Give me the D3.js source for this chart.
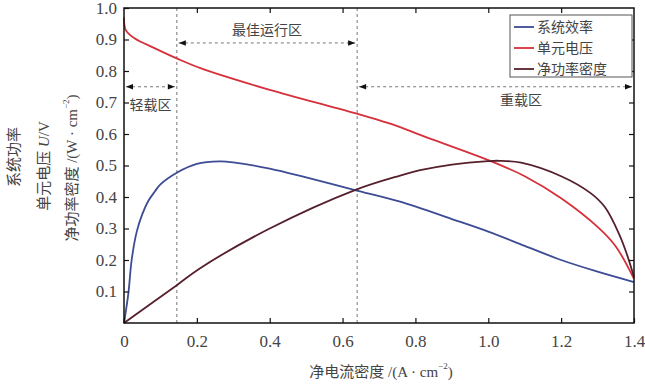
<!DOCTYPE html>
<html>
<head>
<meta charset="utf-8">
<script src="https://cdn.jsdelivr.net/npm/d3@7"></script>
<style>
  body { margin: 0; background: #fff; }
  svg text { font-family: "Liberation Serif", "Noto Sans CJK SC", serif; fill: #444; }
  .cjk { font-family: "Liberation Serif", "Noto Sans CJK SC", sans-serif; }
</style>
</head>
<body>
<svg id="chart" width="645" height="386"></svg>
<script>
// 系统效率
const effX = [0, 0.012, 0.021, 0.035, 0.05, 0.067, 0.085, 0.1, 0.145, 0.2, 0.263, 0.3, 0.4, 0.5, 0.634, 0.758, 0.9, 1.0, 1.1, 1.2, 1.3, 1.4];
const effY = [0, 0.094, 0.2, 0.29, 0.345, 0.388, 0.418, 0.44, 0.477, 0.505, 0.513, 0.51, 0.49, 0.462, 0.422, 0.385, 0.33, 0.29, 0.245, 0.2, 0.163, 0.13];
// 单元电压
const voltX = [0, 0.005, 0.03, 0.085, 0.145, 0.21, 0.4, 0.634, 0.758, 0.813, 1.0, 1.1, 1.2, 1.3, 1.35, 1.4];
const voltY = [0.97, 0.93, 0.903, 0.872, 0.84, 0.809, 0.74, 0.666, 0.622, 0.597, 0.517, 0.466, 0.396, 0.305, 0.243, 0.14];
// 净功率密度
const powX = [0, 0.145, 0.209, 0.4, 0.634, 0.758, 0.813, 0.9, 1.0, 1.03, 1.09, 1.2, 1.28, 1.32, 1.36, 1.38, 1.4];
const powY = [0, 0.12, 0.174, 0.30, 0.422, 0.468, 0.485, 0.503, 0.514, 0.515, 0.509, 0.466, 0.413, 0.368, 0.28, 0.22, 0.146];

const seriesNames = ["系统效率", "单元电压", "净功率密度"];
const xTicks = [0, 0.2, 0.4, 0.6, 0.8, 1.0, 1.2, 1.4];
const xTickLabels = ["0", "0.2", "0.4", "0.6", "0.8", "1.0", "1.2", "1.4"];
const yTicks = [0.1, 0.2, 0.3, 0.4, 0.5, 0.6, 0.7, 0.8, 0.9, 1.0];
const yTickLabels = ["0.1", "0.2", "0.3", "0.4", "0.5", "0.6", "0.7", "0.8", "0.9", "1.0"];
const regionBounds = [0, 0.145, 0.64, 1.4];
const regionNames = ["轻载区", "最佳运行区", "重载区"];

const colors = ["#3c4b94", "#d6303a", "#55202c"];
const margin = { top: 8, right: 11, bottom: 63, left: 124 };
const width = 645, height = 386;
const svg = d3.select('#chart');

let x = d3.scaleLinear().domain([0, 1.4]).range([margin.left, width - margin.right]);
let y = d3.scaleLinear().domain([0, 1]).range([height - margin.bottom, margin.top]);

let defs = svg.append('defs');
['start', 'end'].forEach(k => {
    defs.append('marker')
        .attr('id', `arrow-${k}`)
        .attr('viewBox', '0 0 10 10')
        .attr('refX', 10).attr('refY', 5)
        .attr('markerWidth', 9).attr('markerHeight', 7)
        .attr('markerUnits', 'userSpaceOnUse')
        .attr('orient', k === 'end' ? 'auto' : 'auto-start-reverse')
        .append('path')
        .attr('d', 'M0,1 L10,5 L0,9 Z')
        .attr('fill', '#111');
});

// region dividers
svg.selectAll('.divider')
    .data(regionBounds.slice(1, 3))
    .enter().append('line')
    .attr('x1', d => x(d)).attr('x2', d => x(d))
    .attr('y1', y(1)).attr('y2', y(0))
    .attr('stroke', '#777').attr('stroke-width', 1)
    .attr('stroke-dasharray', '3,3');

// region arrows and labels
let arrowY = [0.75, 0.889, 0.75];
let labelY = [0.69, 0.927, 0.705];
let labelX = [(0 + 0.145) / 2, (0.145 + 0.64) / 2, 1.09];
regionNames.forEach((name, i) => {
    svg.append('line')
        .attr('x1', x(regionBounds[i]) + 2).attr('x2', x(regionBounds[i + 1]) - 2)
        .attr('y1', y(arrowY[i])).attr('y2', y(arrowY[i]))
        .attr('stroke', '#777').attr('stroke-width', 1)
        .attr('stroke-dasharray', '3,3')
        .attr('marker-start', 'url(#arrow-start)')
        .attr('marker-end', 'url(#arrow-end)');
    svg.append('text')
        .attr('class', 'cjk')
        .attr('x', x(labelX[i])).attr('y', y(labelY[i]))
        .attr('text-anchor', 'middle').attr('dominant-baseline', 'central')
        .style('font-size', '14px')
        .text(name);
});

// curves
let line = d3.line()
    .x(d => x(d[0])).y(d => y(d[1]))
    .curve(d3.curveCatmullRom.alpha(0.5));
let series = [d3.zip(effX, effY), d3.zip(voltX, voltY), d3.zip(powX, powY)];
svg.selectAll('.curve')
    .data(series)
    .enter().append('path')
    .attr('d', line)
    .attr('fill', 'none')
    .attr('stroke', (d, i) => colors[i])
    .attr('stroke-width', 1.8);

// frame
svg.append('rect')
    .attr('x', x(0)).attr('y', y(1))
    .attr('width', x(1.4) - x(0)).attr('height', y(0) - y(1))
    .attr('fill', 'none').attr('stroke', '#111').attr('stroke-width', 1.5);

// axes with inward ticks
let xAxis = svg.append('g')
    .attr('transform', `translate(0,${y(0)})`)
    .call(d3.axisBottom(x).tickValues(xTicks).tickSizeInner(-5).tickSizeOuter(0)
        .tickPadding(12).tickFormat((d, i) => xTickLabels[i]));
let xTop = svg.append('g')
    .attr('transform', `translate(0,${y(1)})`)
    .call(d3.axisTop(x).tickValues(xTicks.slice(1, -1)).tickSizeInner(-5).tickSizeOuter(0).tickFormat(''));
let yAxis = svg.append('g')
    .attr('transform', `translate(${x(0)},0)`)
    .call(d3.axisLeft(y).tickValues(yTicks).tickSizeInner(-5).tickSizeOuter(0)
        .tickPadding(7).tickFormat((d, i) => yTickLabels[i]));
let yRight = svg.append('g')
    .attr('transform', `translate(${x(1.4)},0)`)
    .call(d3.axisRight(y).tickValues(yTicks.slice(0, -1)).tickSizeInner(-5).tickSizeOuter(0).tickFormat(''));

[xAxis, xTop, yAxis, yRight].forEach(g => {
    g.select('.domain').remove();
    g.selectAll('line').attr('stroke', '#111').attr('stroke-width', 1.2);
    g.selectAll('text').style('font-size', '17px').attr('fill', '#444')
        .style('font-family', '"Liberation Serif", serif');
});

// axis titles
let xTitle = svg.append('text')
    .attr('x', 381).attr('y', 372)
    .attr('text-anchor', 'middle').attr('dominant-baseline', 'central')
    .style('font-size', '15px');
xTitle.append('tspan').text('净电流密度 /(A · cm');
xTitle.append('tspan').attr('dy', -6).style('font-size', '9px').text('−2');
xTitle.append('tspan').attr('dy', 6).text(')');

let yTitles = svg.append('g');
yTitles.append('text')
    .attr('transform', 'translate(14,157) rotate(-90)')
    .attr('text-anchor', 'middle').attr('dominant-baseline', 'central')
    .style('font-size', '15px').text('系统功率');
let t2 = yTitles.append('text')
    .attr('transform', 'translate(44,166) rotate(-90)')
    .attr('text-anchor', 'middle').attr('dominant-baseline', 'central')
    .style('font-size', '15px');
t2.append('tspan').text('单元电压 ');
t2.append('tspan').style('font-style', 'italic').text('U');
t2.append('tspan').text('/V');
let t3 = yTitles.append('text')
    .attr('transform', 'translate(72,168) rotate(-90)')
    .attr('text-anchor', 'middle').attr('dominant-baseline', 'central')
    .style('font-size', '15px');
t3.append('tspan').text('净功率密度 /(W · cm');
t3.append('tspan').attr('dy', -6).style('font-size', '9px').text('−2');
t3.append('tspan').attr('dy', 6).text(')');

// legend
let legend = svg.append('g').attr('transform', 'translate(510,15)');
legend.append('rect')
    .attr('width', 122).attr('height', 62)
    .attr('fill', '#fff').attr('stroke', '#555').attr('stroke-width', 1);
seriesNames.forEach((name, i) => {
    let ly = 12 + i * 21;
    legend.append('line')
        .attr('x1', 4).attr('x2', 24).attr('y1', ly).attr('y2', ly)
        .attr('stroke', colors[i]).attr('stroke-width', 1.8);
    legend.append('text')
        .attr('class', 'cjk')
        .attr('x', 27).attr('y', ly)
        .attr('dominant-baseline', 'central')
        .style('font-size', '14px')
        .text(name);
});
</script>
</body>
</html>
